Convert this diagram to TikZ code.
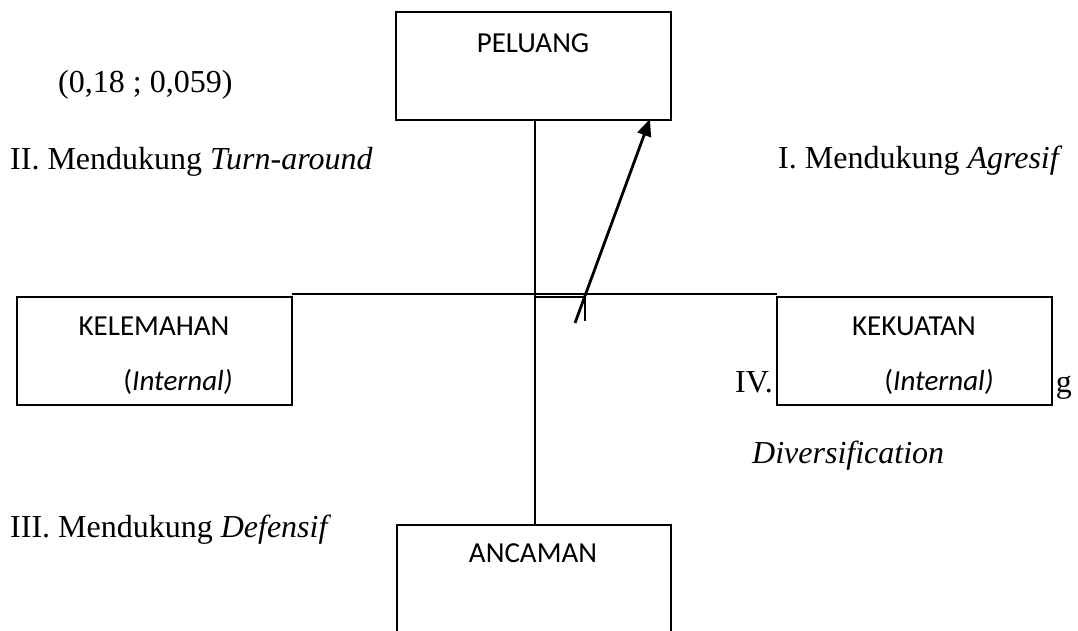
\documentclass[tikz,border=0pt]{standalone}
\usepackage{fontspec}
\setmainfont{Liberation Serif}
\newfontfamily\calibri{Carlito}
\usetikzlibrary{arrows.meta}
\tikzset{
  box/.style={draw, line width=1.8pt, fill=white, inner sep=0pt, outer sep=0pt},
  axis/.style={line width=1.4pt},
  serif/.style={inner sep=0pt, font=\fontsize{32}{38}\selectfont},
  boxtext/.style={inner sep=0pt, font=\calibri\fontsize{29}{34}\selectfont},
}
\begin{document}
\begin{tikzpicture}[x=1pt,y=-1pt]
\useasboundingbox (0,0) rectangle (1078,631);
% outer labels
\node[serif, anchor=base west] (coord) at (58,93) {(0,18 ; 0,059)};
\node[serif, anchor=base west] (q2) at (10,170) {II. Mendukung \textit{Turn-around}};
\node[serif, anchor=base west] (q1) at (778,169) {I. Mendukung \textit{Agresif}};
\node[serif, anchor=base west] (q3) at (10,537) {III. Mendukung \textit{Defensif}};
\node[serif, anchor=base west] (q4a) at (735,392) {IV.};
\node[serif, anchor=base east] (q4b) at (1072,392) {g};
\node[serif, anchor=base west] (q4c) at (752,463) {\textit{Diversification}};
% axis coordinates
\coordinate (vtop) at (535,120);
\coordinate (vbot) at (535,525);
\coordinate (hl) at (292,294);
\coordinate (hr) at (777,294);
\coordinate (dl) at (535,297);
\coordinate (dr) at (585,297);
\coordinate (tt) at (585,294);
\coordinate (tb) at (585,321);
\coordinate (astart) at (575,323);
\coordinate (aend) at (650,119);
% boxes
\node[box, minimum width=275pt, minimum height=108pt, anchor=north west] (peluang) at (396,12) {};
\node[box, minimum width=275pt, minimum height=108pt, anchor=north west] (kelemahan) at (17,297) {};
\node[box, minimum width=275pt, minimum height=108pt, anchor=north west] (kekuatan) at (777,297) {};
\node[box, minimum width=274pt, minimum height=120pt, anchor=north west] (ancaman) at (397,525) {};
% box texts
\node[boxtext] (tpeluang) at (533,43) {PELUANG};
\node[boxtext] (tkelemahan) at (154,326) {KELEMAHAN};
\node[boxtext] (tkelint) at (178,382) {(\textit{Internal)}};
\node[boxtext] (tkekuatan) at (914,326) {KEKUATAN};
\node[boxtext] (tkekint) at (939,382) {(\textit{Internal)}};
\node[boxtext] (tancaman) at (533,553) {ANCAMAN};
% axes
\draw[axis] (vtop) -- (vbot);
\draw[axis] (hl) -- (hr);
\draw[axis] (dl) -- (dr);
\draw[axis] (tt) -- (tb);
\draw[line width=2.8pt, -{Triangle[length=17pt,width=14pt]}] (astart) -- (aend);
\end{tikzpicture}
\end{document}
